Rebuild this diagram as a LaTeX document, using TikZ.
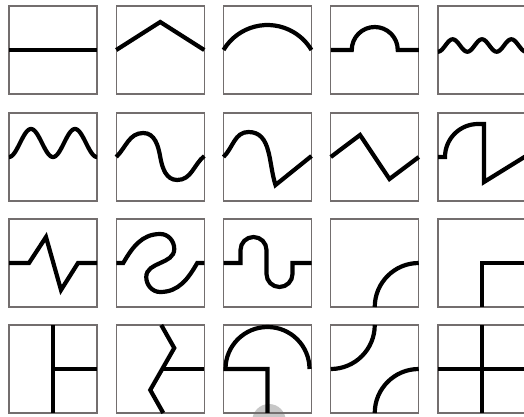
\documentclass[tikz,border=0pt]{standalone}
\definecolor{bordergray}{rgb}{0.45,0.43,0.43}
\definecolor{overlaygray}{rgb}{0.78,0.78,0.78}
\tikzset{
  tilebox/.style={draw=bordergray, line width=1.2pt},
  wire/.style={line width=4.2pt, black, line join=miter},
}
\newcommand{\mytile}[3]{%
  \begin{scope}[shift={(#1,#2)}]
    \draw[tilebox] (0,0) rectangle (88,88);
    #3
  \end{scope}}
\begin{document}
\begin{tikzpicture}[x=1pt,y=1pt]
\useasboundingbox (0,0) rectangle (524,416);
\clip (0,0) rectangle (524,416);
\fill[white] (0,0) rectangle (524,416);
\fill[overlaygray] (269,-4.7) circle[radius=16.7];
% row 1
\mytile{9}{322}{\draw[wire] (0,44) -- (88,44);}
\mytile{116.25}{322}{\draw[wire] (0,44) -- (44,72) -- (88,44);}
\mytile{223.5}{322}{\draw[wire] (0,44) arc[start angle=149.2, end angle=30.8, radius=51.2];}
\mytile{330.75}{322}{\draw[wire] (0,44) -- (21,44) arc[start angle=180, end angle=0, radius=23] -- (88,44);}
\mytile{438}{322}{\draw[wire] plot[domain=0:88, samples=120, smooth] (\x, {48.5-6.2*cos(\x*12.273)});}
% row 2
\mytile{9}{215}{\draw[wire] plot[domain=0:88, samples=120, smooth] (\x, {44+14*(1-cos(\x*8.1818))});}
\mytile{116.25}{215}{\draw[wire] (0,44) to[out=45,in=180] (27,68) to[out=0,in=100] (44,44) to[out=-80,in=180] (61,21) to[out=0,in=-140] (88,45);}
\mytile{223.5}{215}{\draw[wire] (0,44) to[out=45,in=180] (25,69) to[out=0,in=108] (52,16) -- (88,45);}
\mytile{330.75}{215}{\draw[wire] (0,44) -- (29.3,66) -- (58.7,22) -- (88,44);}
\mytile{438}{215}{\draw[wire] (0,44) -- (7,44) arc[start angle=180, end angle=90, radius=33] -- (46,77) -- (46,19) -- (88,45);}
% row 3
\mytile{9}{109}{\draw[wire] (0,44) -- (20,44) -- (37,70) -- (52,17) -- (69,44) -- (88,44);}
\mytile{116.25}{109}{\draw[wire] (0,44) -- (7,44) to[out=60,in=180] (44,73) to[out=0,in=90] (58,58) to[out=-90,in=90] (30,30) to[out=-90,in=180] (44,15) to[out=0,in=240] (81,44) -- (88,44);}
\mytile{223.5}{109}{\draw[wire] (0,44) -- (17,44) -- (17,57) arc[start angle=180, end angle=0, radius=13] -- (43,33) arc[start angle=180, end angle=360, radius=13] -- (69,44) -- (88,44);}
\mytile{330.75}{109}{\draw[wire] (44,0) arc[start angle=180, end angle=90, radius=44];}
\mytile{438}{109}{\draw[wire] (44,0) -- (44,44) -- (88,44);}
% row 4
\mytile{9}{3}{\draw[wire] (44,0) -- (44,88); \draw[wire] (44,44) -- (88,44);}
\mytile{116.25}{3}{\draw[wire] (45,88) -- (58,65) -- (34,23) -- (47,0); \draw[wire] (46,44) -- (88,44);}
\mytile{223.5}{3}{\draw[wire] (44,0) -- (44,44) -- (2,44) arc[start angle=180, end angle=0, radius=42];}
\mytile{330.75}{3}{\draw[wire] (44,88) arc[start angle=0, end angle=-90, radius=44]; \draw[wire] (44,0) arc[start angle=180, end angle=90, radius=44];}
\mytile{438}{3}{\draw[wire] (44,0) -- (44,88); \draw[wire] (0,44) -- (88,44);}
\end{tikzpicture}
\end{document}
